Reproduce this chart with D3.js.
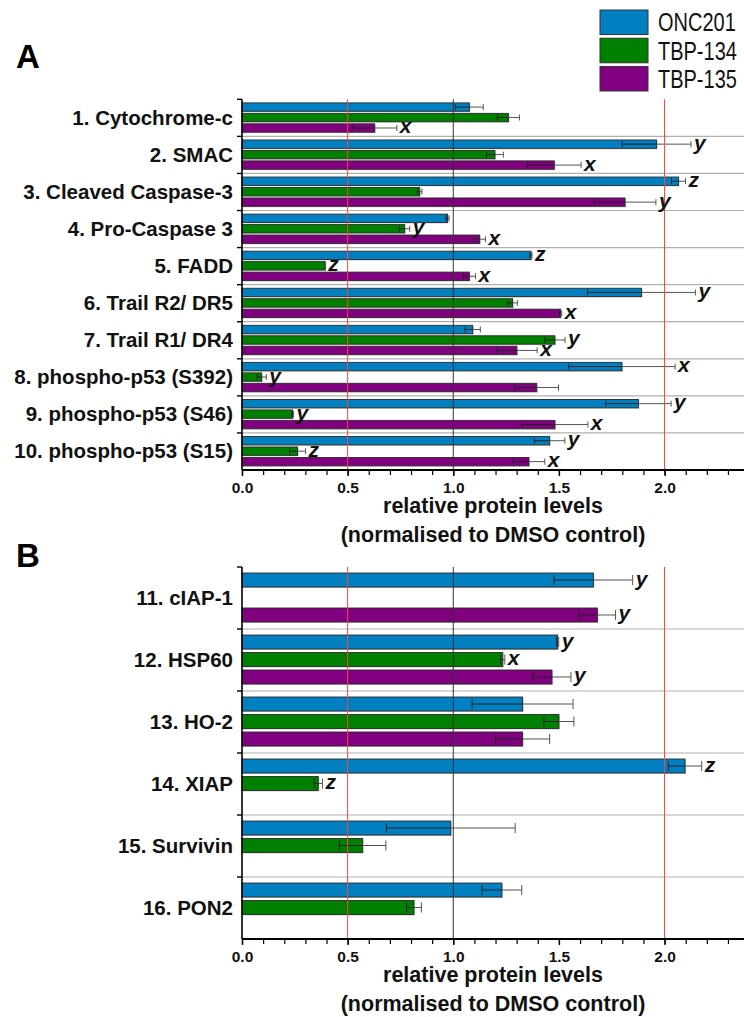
<!DOCTYPE html>
<html>
<head>
<meta charset="utf-8">
<script src="https://cdn.jsdelivr.net/npm/d3@7"></script>
<style>
  html, body { margin: 0; padding: 0; background: #fff; }
  svg { display: block; font-family: "Liberation Sans", Arial, sans-serif; }
</style>
</head>
<body>
<svg id="chart" width="744" height="1017"></svg>
<script>
// ---------------- DATA ----------------
const seriesNames = ["ONC201", "TBP-134", "TBP-135"];
const seriesColors = ["#0080C0", "#008000", "#800080"];

const categoriesA = ["1. Cytochrome-c", "2. SMAC", "3. Cleaved Caspase-3", "4. Pro-Caspase 3", "5. FADD",
  "6. Trail R2/ DR5", "7. Trail R1/ DR4", "8. phospho-p53 (S392)", "9. phospho-p53 (S46)", "10. phospho-p53 (S15)"];
const onc201A    = [1.076, 1.962, 2.066, 0.973, 1.368, 1.891, 1.092, 1.798, 1.876, 1.456];
const onc201ErrA = [0.066, 0.163, 0.033, 0.007, 0.005, 0.255, 0.036, 0.252, 0.155, 0.072];
const onc201SigA = ["", "y", "z", "", "z", "y", "", "x", "y", "y"];
const tbp134A    = [1.261, 1.197, 0.841, 0.770, 0.394, 1.281, 1.481, 0.093, 0.240, 0.263];
const tbp134ErrA = [0.052, 0.040, 0.011, 0.024, 0.000, 0.022, 0.048, 0.022, 0.004, 0.038];
const tbp134SigA = ["", "", "", "y", "z", "", "y", "y", "y", "z"];
const tbp135A    = [0.628, 1.478, 1.813, 1.125, 1.076, 1.508, 1.301, 1.395, 1.481, 1.358];
const tbp135ErrA = [0.105, 0.127, 0.146, 0.027, 0.029, 0.005, 0.096, 0.103, 0.156, 0.075];
const tbp135SigA = ["x", "x", "y", "x", "x", "x", "x", "", "x", "x"];

const categoriesB = ["11. cIAP-1", "12. HSP60", "13. HO-2", "14. XIAP", "15. Survivin", "16. PON2"];
const onc201B    = [1.663, 1.494, 1.328, 2.097, 0.988, 1.230];
const onc201ErrB = [0.186, 0.005, 0.239, 0.079, 0.305, 0.094];
const onc201SigB = ["y", "y", "", "z", "", ""];
const tbp134B    = [null, 1.234, 1.500, 0.361, 0.571, 0.814];
const tbp134ErrB = [null, 0.010, 0.071, 0.020, 0.110, 0.035];
const tbp134SigB = ["", "x", "", "z", "", ""];
const tbp135B    = [1.682, 1.467, 1.328, null, null, null];
const tbp135ErrB = [0.086, 0.090, 0.128, null, null, null];
const tbp135SigB = ["y", "y", "", "", "", ""];

const majorTicks = [0, 0.5, 1.0, 1.5, 2.0];
const minorTicks = [0, 0.1, 0.2, 0.3, 0.4, 0.5, 0.6, 0.7, 0.8, 0.9, 1.0, 1.1, 1.2, 1.3, 1.4, 1.5, 1.6, 1.7, 1.8, 1.9, 2.0, 2.1, 2.2, 2.3];
const refLines = [{v: 0.5, c: "#ff4040"}, {v: 1.0, c: "#333333"}, {v: 2.0, c: "#ff4040"}];
const axisTitle1 = "relative protein levels";
const axisTitle2 = "(normalised to DMSO control)";

// ---------------- DRAW ----------------
const svg = d3.select("#chart");
const x = d3.scaleLinear().domain([0, 2.376]).range([242, 744]);

function buildRows(cats, vals, errs, sigs) {
  return cats.map((c, i) => ({
    cat: c,
    bars: seriesNames.map((s, k) => ({ series: s, k: k, v: vals[k][i], e: errs[k][i], sig: sigs[k][i] }))
  }));
}

function drawPanel(opts) {
  const { cats, rows, top, bottom, letter, letterY, labelSize } = opts;
  const g = svg.append("g");
  const y = d3.scaleBand().domain(cats).range([top, bottom]).padding(0);
  const G = y.bandwidth();
  const sub = d3.scaleBand().domain(seriesNames).range([0.097 * G, 0.887 * G]).paddingInner(0.2);
  const bh = sub.bandwidth();

  // panel letter
  svg.append("text").attr("x", 16).attr("y", letterY)
    .attr("font-size", 33).attr("font-weight", "bold").attr("fill", "#000").text(letter);

  // horizontal separators
  g.selectAll("line.sep").data(cats.slice(1)).enter().append("line")
    .attr("x1", x(0)).attr("x2", 744)
    .attr("y1", d => y(d)).attr("y2", d => y(d))
    .attr("stroke", "#b0b0b0").attr("stroke-width", 1.2);

  // bars
  const barData = [];
  rows.forEach(r => r.bars.forEach(b => { if (b.v != null) barData.push({ cat: r.cat, ...b }); }));

  g.selectAll("rect.shadow").data(barData).enter().append("rect")
    .attr("x", x(0) + 1).attr("y", d => y(d.cat) + sub(d.series) + 1)
    .attr("width", d => x(d.v) - x(0)).attr("height", bh)
    .attr("fill", "#c8c8c8");

  g.selectAll("rect.bar").data(barData).enter().append("rect")
    .attr("x", x(0)).attr("y", d => y(d.cat) + sub(d.series))
    .attr("width", d => x(d.v) - x(0)).attr("height", bh)
    .attr("fill", d => seriesColors[d.k])
    .attr("stroke", "#2a2a2a").attr("stroke-width", 0.9);

  // error bars
  const capH = bh * 0.36;
  const eg = g.append("g");
  barData.filter(d => d.e > 0).forEach(d => {
    const cy = y(d.cat) + sub(d.series) + bh / 2;
    const lo = x(d.v - d.e), hi = x(d.v + d.e), mid = x(d.v);
    eg.append("line").attr("x1", lo).attr("x2", mid).attr("y1", cy).attr("y2", cy)
      .attr("stroke", "#222").attr("stroke-width", 1);
    eg.append("line").attr("x1", mid).attr("x2", hi).attr("y1", cy).attr("y2", cy)
      .attr("stroke", "#555").attr("stroke-width", 1);
    [lo, hi].forEach((xx, j) => eg.append("line").attr("x1", xx).attr("x2", xx)
      .attr("y1", cy - capH).attr("y2", cy + capH)
      .attr("stroke", j ? "#555" : "#222").attr("stroke-width", 1));
  });

  // reference lines (on top of bars)
  g.selectAll("line.ref").data(refLines).enter().append("line")
    .attr("x1", d => x(d.v)).attr("x2", d => x(d.v))
    .attr("y1", top).attr("y2", bottom)
    .attr("stroke", d => d.c).attr("stroke-width", 1);

  // significance letters
  g.selectAll("text.sig").data(barData.filter(d => d.sig)).enter().append("text")
    .attr("x", d => x(d.v + (d.e || 0)) + 3)
    .attr("y", d => y(d.cat) + sub(d.series) + bh / 2 + 5.5)
    .attr("font-size", 21).attr("font-weight", "bold").attr("font-style", "italic")
    .attr("fill", "#111").text(d => d.sig);

  // left axis line + ticks at band boundaries
  g.append("line").attr("x1", x(0)).attr("x2", x(0)).attr("y1", top).attr("y2", bottom)
    .attr("stroke", "#000").attr("stroke-width", 1.6);
  g.selectAll("line.ytick").data(cats.map(c => y(c))).enter().append("line")
    .attr("x1", x(0) - 5).attr("x2", x(0)).attr("y1", d => d).attr("y2", d => d)
    .attr("stroke", "#000").attr("stroke-width", 1.4);

  // category labels
  g.selectAll("text.cat").data(cats).enter().append("text")
    .attr("x", 233).attr("y", d => y(d) + G / 2 + 7)
    .attr("text-anchor", "end").attr("font-size", labelSize).attr("font-weight", "bold")
    .attr("fill", "#111").text(d => d);

  // bottom axis: minor ticks
  g.append("g").attr("transform", `translate(0,${bottom})`)
    .call(d3.axisBottom(x).tickValues(minorTicks).tickSize(5).tickFormat(""))
    .call(a => a.select(".domain").remove())
    .call(a => a.selectAll("line").attr("stroke", "#000").attr("stroke-width", 1.2));
  // major ticks + labels
  const ax = g.append("g").attr("transform", `translate(0,${bottom})`)
    .call(d3.axisBottom(x).tickValues(majorTicks).tickSize(6).tickPadding(6).tickFormat(d3.format(".1f")));
  ax.select(".domain").attr("stroke", "#000").attr("stroke-width", 1.8).attr("d", `M${x(0)},0H744`);
  ax.selectAll("line").attr("stroke", "#000").attr("stroke-width", 1.4);
  ax.selectAll("text").attr("font-size", 15.5).attr("font-weight", "bold").attr("fill", "#111")
    .attr("font-family", "Liberation Sans, Arial, sans-serif");

  // axis title
  const cx = (x(0) + 744) / 2;
  g.append("text").attr("x", cx).attr("y", bottom + 43).attr("text-anchor", "middle")
    .attr("font-size", 21.5).attr("font-weight", "bold").attr("fill", "#111").text(axisTitle1);
  g.append("text").attr("x", cx).attr("y", bottom + 71.5).attr("text-anchor", "middle")
    .attr("font-size", 21.5).attr("font-weight", "bold").attr("fill", "#111").text(axisTitle2);
}

const rowsA = buildRows(categoriesA, [onc201A, tbp134A, tbp135A], [onc201ErrA, tbp134ErrA, tbp135ErrA], [onc201SigA, tbp134SigA, tbp135SigA]);
const rowsB = buildRows(categoriesB, [onc201B, tbp134B, tbp135B], [onc201ErrB, tbp134ErrB, tbp135ErrB], [onc201SigB, tbp134SigB, tbp135SigB]);

drawPanel({ cats: categoriesA, rows: rowsA, top: 99.3, bottom: 470, letter: "A", letterY: 68, labelSize: 20.5 });
drawPanel({ cats: categoriesB, rows: rowsB, top: 567, bottom: 939, letter: "B", letterY: 567, labelSize: 20.5 });

// legend
const leg = svg.append("g");
const legY = d3.scaleBand().domain(seriesNames).range([10, 91]).paddingInner(0.13);
leg.selectAll("rect").data(seriesNames).enter().append("rect")
  .attr("x", 600).attr("y", d => legY(d)).attr("width", 48).attr("height", legY.bandwidth())
  .attr("fill", (d, i) => seriesColors[i]).attr("stroke", "#333").attr("stroke-width", 1);
leg.selectAll("text").data(seriesNames).enter().append("text")
  .attr("transform", d => `translate(658,${legY(d) + legY.bandwidth() / 2 + 9}) scale(0.8,1)`)
  .attr("font-size", 25).attr("fill", "#111")
  .text(d => d);
</script>
</body>
</html>
